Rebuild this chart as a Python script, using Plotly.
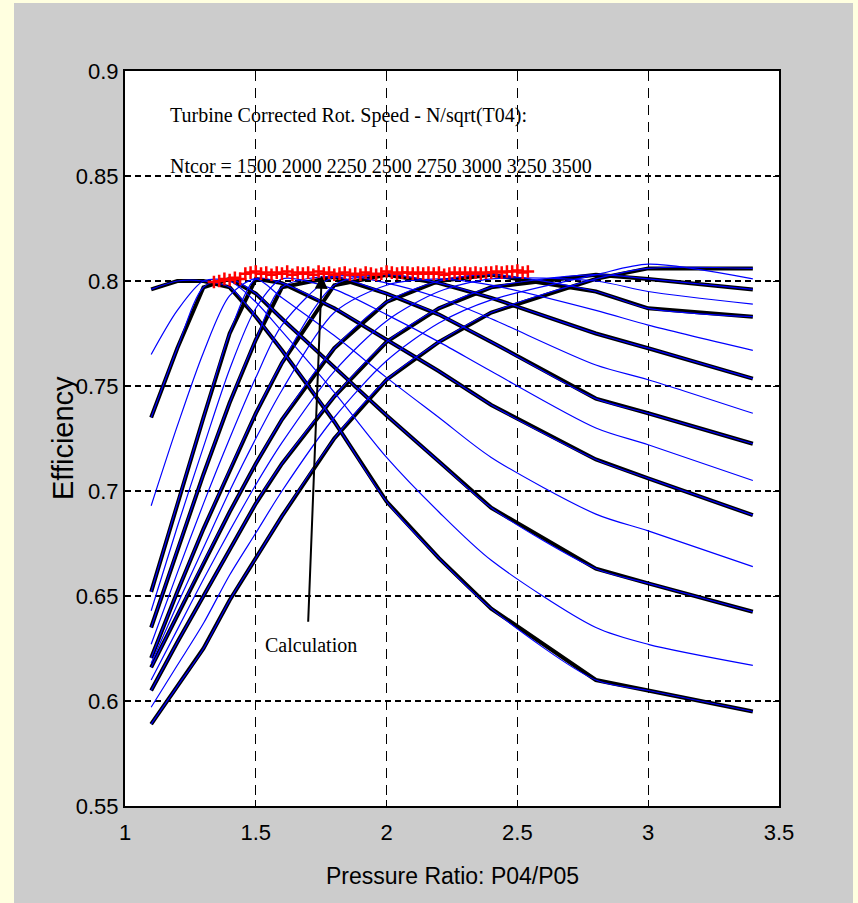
import plotly.graph_objects as go

# ---------------- data ----------------
px_grid = [1.1, 1.2, 1.3, 1.4, 1.5, 1.6, 1.8, 2.0, 2.2, 2.4, 2.8, 3.0, 3.4]

speeds_black = [1500, 2000, 2250, 2500, 2750, 3000, 3250, 3500]
eff_1500 = [0.796, 0.800, 0.800, 0.797, 0.783, 0.767, 0.733, 0.695, 0.668, 0.644, 0.610, 0.605, 0.595]
eff_2000 = [0.735, 0.768, 0.797, 0.801, 0.794, 0.782, 0.759, 0.736, 0.714, 0.692, 0.663, 0.656, 0.6425]
eff_2250 = [0.652, 0.694, 0.735, 0.775, 0.801, 0.799, 0.787, 0.772, 0.757, 0.741, 0.715, 0.706, 0.6885]
eff_2500 = [0.635, 0.672, 0.708, 0.742, 0.772, 0.797, 0.802, 0.794, 0.784, 0.771, 0.744, 0.737, 0.7225]
eff_2750 = [0.6205, 0.652, 0.682, 0.710, 0.737, 0.761, 0.798, 0.803, 0.799, 0.792, 0.775, 0.768, 0.7535]
eff_3000 = [0.616, 0.641, 0.666, 0.690, 0.713, 0.734, 0.768, 0.790, 0.800, 0.803, 0.795, 0.787, 0.783]
eff_3250 = [0.605, 0.628, 0.650, 0.672, 0.694, 0.713, 0.745, 0.771, 0.787, 0.797, 0.803, 0.801, 0.796]
eff_3500 = [0.589, 0.607, 0.625, 0.648, 0.668, 0.688, 0.725, 0.753, 0.771, 0.785, 0.801, 0.806, 0.806]

# intermediate (fitted) speed lines, thin blue
speeds_mid = [1750, 2125, 2375, 2625, 2875, 3125, 3375]
eff_1750 = [0.765, 0.786, 0.800, 0.800, 0.790, 0.776, 0.747, 0.716, 0.690, 0.667, 0.635, 0.627, 0.617]
eff_2125 = [0.693, 0.731, 0.766, 0.793, 0.801, 0.792, 0.774, 0.754, 0.735, 0.716, 0.689, 0.681, 0.664]
eff_2375 = [0.643, 0.683, 0.721, 0.758, 0.787, 0.801, 0.796, 0.784, 0.771, 0.757, 0.730, 0.722, 0.705]
eff_2625 = [0.627, 0.661, 0.694, 0.725, 0.754, 0.779, 0.802, 0.799, 0.792, 0.782, 0.760, 0.753, 0.737]
eff_2875 = [0.618, 0.646, 0.673, 0.700, 0.725, 0.748, 0.785, 0.798, 0.801, 0.798, 0.786, 0.779, 0.767]
eff_3125 = [0.610, 0.634, 0.658, 0.681, 0.703, 0.723, 0.757, 0.781, 0.795, 0.801, 0.800, 0.795, 0.789]
eff_3375 = [0.597, 0.617, 0.637, 0.660, 0.680, 0.700, 0.735, 0.762, 0.780, 0.791, 0.803, 0.808, 0.801]

# red "calculation" points along the efficiency maximum
calc_x = [1.34, 1.36, 1.38, 1.40, 1.42, 1.44, 1.46, 1.48, 1.50, 1.52, 1.54, 1.56,
          1.58, 1.60, 1.62, 1.64, 1.66, 1.68, 1.70, 1.72, 1.74, 1.76, 1.78, 1.80,
          1.82, 1.84, 1.86, 1.88, 1.90, 1.92, 1.94, 1.96, 1.98, 2.00, 2.02, 2.04,
          2.06, 2.08, 2.10, 2.12, 2.14, 2.16, 2.18, 2.20, 2.22, 2.24, 2.26, 2.28,
          2.30, 2.32, 2.34, 2.36, 2.38, 2.40, 2.42, 2.44, 2.46, 2.48, 2.50, 2.52, 2.54]
calc_y = [0.7995, 0.8000, 0.8010, 0.8005, 0.8015, 0.8010, 0.8035, 0.8040, 0.8045, 0.8035, 0.8040, 0.8030,
          0.8040, 0.8035, 0.8045, 0.8030, 0.8040, 0.8035, 0.8040, 0.8030, 0.8045, 0.8035, 0.8040, 0.8030,
          0.8035, 0.8040, 0.8030, 0.8035, 0.8030, 0.8040, 0.8035, 0.8030, 0.8035, 0.8045, 0.8040, 0.8035,
          0.8040, 0.8040, 0.8035, 0.8040, 0.8035, 0.8040, 0.8035, 0.8040, 0.8030, 0.8035, 0.8040, 0.8035,
          0.8040, 0.8035, 0.8040, 0.8035, 0.8040, 0.8040, 0.8045, 0.8040, 0.8045, 0.8045, 0.8050, 0.8040, 0.8045]

x_ticks = [1, 1.5, 2, 2.5, 3, 3.5]
x_tick_text = ["1", "1.5", "2", "2.5", "3", "3.5"]
y_ticks = [0.55, 0.6, 0.65, 0.7, 0.75, 0.8, 0.85, 0.9]
y_tick_text = ["0.55", "0.6", "0.65", "0.7", "0.75", "0.8", "0.85", "0.9"]

title_line1 = "Turbine Corrected Rot. Speed - N/sqrt(T04):"
title_line2 = "Ntcor = 1500 2000 2250 2500 2750 3000 3250 3500"
x_title = "Pressure Ratio: P04/P05"
y_title = "Efficiency"

black_series = [eff_1500, eff_2000, eff_2250, eff_2500, eff_2750, eff_3000, eff_3250, eff_3500]
mid_series = [eff_1750, eff_2125, eff_2375, eff_2625, eff_2875, eff_3125, eff_3375]

# ---------------- figure ----------------
fig = go.Figure()

for sp, ys in zip(speeds_black, black_series):
    fig.add_trace(go.Scatter(x=px_grid, y=ys, mode="lines", name=f"{sp}",
                             line=dict(color="black", width=4), showlegend=False))

blue_all = list(zip(speeds_black, black_series)) + list(zip(speeds_mid, mid_series))
for sp, ys in blue_all:
    fig.add_trace(go.Scatter(x=px_grid, y=ys, mode="lines", name=f"fit {sp}",
                             line=dict(color="#0000FF", width=1.2, shape="spline", smoothing=0.8),
                             showlegend=False))

fig.add_trace(go.Scatter(x=calc_x, y=calc_y, mode="markers", name="Calculation",
                         marker=dict(symbol="cross-thin", size=9, color="red",
                                     line=dict(color="red", width=2.5)),
                         showlegend=False))

sans = "Liberation Sans, Arial, sans-serif"
tick_font = dict(family=sans, size=22, color="black")
serif_font = dict(family="Liberation Serif, Times New Roman, serif", size=20, color="black")

fig.add_annotation(x=1.164, y=0.879, xref="x", yref="y", text=title_line1, showarrow=False,
                   xanchor="left", yanchor="middle", font=serif_font)
fig.add_annotation(x=1.164, y=0.8548, xref="x", yref="y", text=title_line2, showarrow=False,
                   xanchor="left", yanchor="middle", font=serif_font)
fig.add_annotation(x=1.711, y=0.6267, xref="x", yref="y", text="Calculation", showarrow=False,
                   xanchor="center", yanchor="middle", font=serif_font)
fig.add_annotation(x=1.752, y=0.8025, xref="x", yref="y", ax=1.70, ay=0.637, axref="x", ayref="y",
                   text="", showarrow=True, arrowhead=2, arrowsize=1.3, arrowwidth=2,
                   arrowcolor="black")

# axis titles placed as annotations (paper coords)
fig.add_annotation(x=(452 - 125) / 654, y=(806 - 876) / 735, xref="paper", yref="paper",
                   text=x_title, showarrow=False, xanchor="center", yanchor="middle",
                   font=dict(family=sans, size=23, color="black"))
fig.add_annotation(x=(63 - 125) / 654, y=(806 - 438) / 735, xref="paper", yref="paper",
                   text=y_title, showarrow=False, xanchor="center", yanchor="middle", textangle=-90,
                   font=dict(family=sans, size=29, color="black"))

# pale yellow frame strips (left, top, right)
yellow = "#FFFFE0"
fig.add_shape(type="rect", xref="paper", yref="paper", x0=-0.3, x1=(14 - 125) / 654,
              y0=-0.3, y1=1.3, fillcolor=yellow, line=dict(width=0), layer="below")
fig.add_shape(type="rect", xref="paper", yref="paper", x0=-0.3, x1=1.3,
              y0=1 + (71 - 3) / 735, y1=1.3, fillcolor=yellow, line=dict(width=0), layer="below")
fig.add_shape(type="rect", xref="paper", yref="paper", x0=(853 - 125) / 654, x1=1.3,
              y0=-0.3, y1=1.3, fillcolor=yellow, line=dict(width=0), layer="below")

fig.update_layout(
    width=858, height=903,
    margin=dict(l=125, r=79, t=71, b=97),
    paper_bgcolor="#CCCCCC",
    plot_bgcolor="white",
    showlegend=False,
)
fig.update_xaxes(
    range=[1, 3.5], tickvals=x_ticks, ticktext=x_tick_text, tickfont=tick_font,
    showgrid=True, gridcolor="black", gridwidth=1.2, griddash="10px,7px",
    showline=True, linecolor="black", linewidth=2, mirror="ticks",
    ticks="inside", ticklen=6, tickcolor="black", zeroline=False, ticklabelstandoff=6,
)
fig.update_yaxes(
    range=[0.55, 0.9], tickvals=y_ticks, ticktext=y_tick_text, tickfont=tick_font,
    showgrid=True, gridcolor="black", gridwidth=2, griddash="6px,4px",
    showline=True, linecolor="black", linewidth=2, mirror="ticks",
    ticks="inside", ticklen=6, tickcolor="black", zeroline=False,
)

fig.write_html("out.html", config={"displayModeBar": False},
               post_script="document.body.style.margin='0px';"
                           "document.body.style.background='#FFFFE0';")
